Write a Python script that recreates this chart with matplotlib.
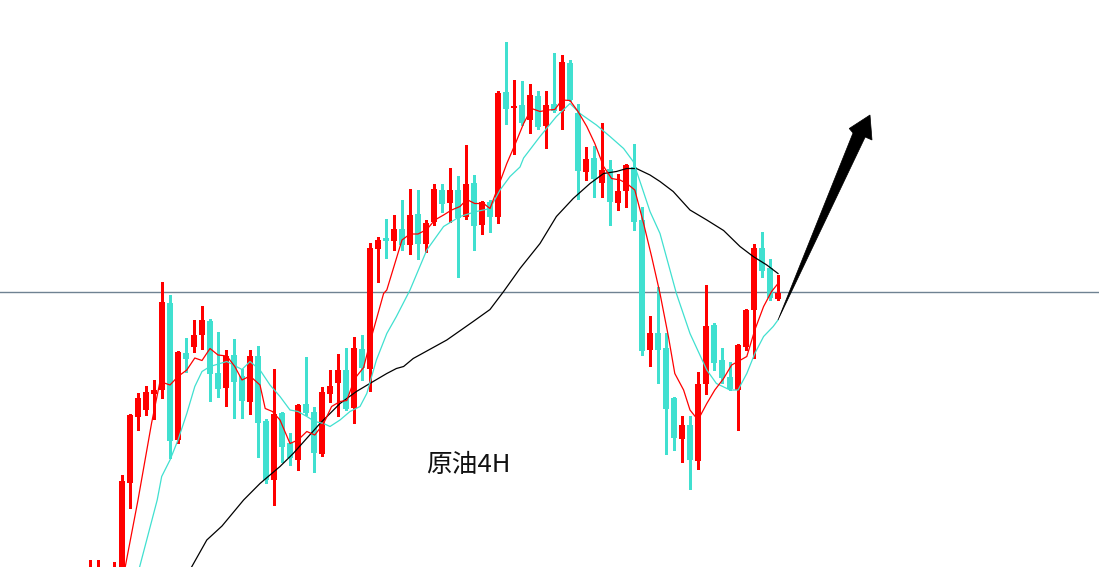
import matplotlib
matplotlib.use("Agg")
import matplotlib.pyplot as plt
from matplotlib.patches import Polygon
import numpy as np

plt.rcParams['font.family'] = ['Noto Sans CJK SC', 'DejaVu Sans']

# ---- candle data (4H crude oil) ----
opens = [74.04, 74.08, 74.04, 74.14, 74.14, 76.19, 77.51, 77.64, 77.96, 78.04,
         79.78, 77.04, 78.78, 78.91, 79.14, 79.42, 78.38, 78.09, 78.74, 78.32,
         77.81, 78.72, 77.42, 76.24, 77.59, 76.98, 76.64, 77.76, 77.60, 76.77,
         77.96, 78.19, 78.43, 77.69, 78.86, 78.46, 80.87, 81.08, 81.03, 81.26,
         80.95, 81.56, 80.97, 81.41, 82.04, 81.79, 82.04, 81.51, 82.19, 81.34,
         81.81, 81.51, 84.01, 83.68, 83.74, 83.44, 83.92, 83.33, 83.76, 83.63,
         84.58, 83.59, 82.41, 82.69, 82.19, 82.46, 81.79, 82.03, 82.50, 81.44,
         78.84, 79.19, 78.89, 77.89, 77.07, 77.35, 76.63, 78.16, 79.34, 78.65,
         78.29, 78.05, 78.91, 79.64, 80.89, 80.49, 79.86]
highs = [74.64, 74.64, 74.44, 74.60, 76.34, 77.56, 77.99, 78.12, 78.24, 80.20,
         79.94, 78.83, 79.08, 79.44, 79.72, 79.46, 79.21, 78.84, 79.06, 78.46,
         78.84, 78.92, 77.46, 78.46, 77.60, 77.18, 77.76, 78.71, 77.71, 78.11,
         78.44, 78.76, 78.87, 79.09, 79.14, 80.99, 81.11, 81.47, 81.54, 81.84,
         82.06, 82.04, 81.44, 82.17, 82.17, 82.49, 82.32, 82.94, 82.34, 81.82,
         81.84, 84.02, 85.01, 84.24, 84.22, 84.16, 84.02, 84.02, 84.79, 84.74,
         84.64, 83.76, 82.91, 82.92, 83.39, 82.64, 82.36, 82.56, 82.96, 81.71,
         79.51, 80.11, 79.18, 77.91, 77.52, 77.51, 78.41, 80.14, 79.37, 78.87,
         78.61, 78.97, 79.67, 80.96, 81.21, 80.65, 80.34]
lows = [73.84, 73.94, 73.88, 74.00, 74.00, 75.68, 77.23, 77.54, 77.46, 77.88,
        76.68, 76.98, 78.41, 78.79, 78.86, 77.81, 77.91, 77.72, 77.48, 77.48,
        77.56, 76.71, 76.18, 75.74, 76.61, 76.54, 76.44, 77.54, 76.41, 76.72,
        77.79, 77.51, 77.64, 77.39, 78.24, 78.02, 80.21, 80.69, 80.84, 80.84,
        80.77, 80.67, 80.81, 81.34, 81.59, 81.40, 80.29, 81.46, 80.84, 81.17,
        81.21, 81.39, 83.37, 82.77, 83.34, 83.19, 83.26, 82.89, 83.61, 83.26,
        83.83, 81.86, 82.24, 81.91, 81.91, 81.34, 81.64, 81.71, 81.23, 78.74,
        78.51, 78.19, 76.77, 76.85, 76.59, 76.07, 76.45, 77.97, 78.43, 78.19,
        78.05, 77.24, 78.84, 78.69, 80.29, 79.85, 79.84]
closes = [74.34, 74.40, 74.34, 74.44, 76.22, 77.54, 77.89, 78.00, 78.04, 79.80,
          77.03, 78.81, 78.66, 79.14, 79.44, 78.36, 78.07, 78.73, 78.21, 77.83,
          78.72, 77.39, 76.24, 77.56, 76.91, 76.68, 77.74, 77.59, 76.79, 78.00,
          78.12, 78.44, 77.66, 78.88, 78.49, 80.89, 81.04, 81.03, 81.26, 80.95,
          81.54, 80.97, 81.39, 82.06, 81.76, 82.04, 81.49, 82.16, 81.32, 81.79,
          81.51, 83.99, 83.66, 83.72, 83.39, 83.94, 83.31, 83.74, 83.62, 84.60,
          83.84, 82.43, 82.66, 82.26, 82.44, 81.81, 82.02, 82.54, 81.41, 78.83,
          79.19, 78.84, 77.67, 77.09, 77.35, 76.65, 78.16, 79.32, 78.59, 78.29,
          78.07, 78.94, 79.64, 80.89, 80.43, 79.89, 79.99]

# ---- moving-average lines (candle index, price) ----
ma_fast_x = [4.4, 6.0, 7.7, 8.75, 10, 11, 12.1, 13.1, 14, 15, 16, 17.1, 18.1, 19, 20,
             21.25, 21.9, 22.8, 23.75, 25, 26, 27.1, 28.1, 29.2, 30.2, 31.25, 32.1,
             33.1, 34.2, 35.2, 36.7, 37.1, 39, 40, 41, 42.1, 43.1, 44.2, 45.2, 46.25,
             47.1, 48.1, 49.2, 50, 50.8, 52.1, 53.1, 54.2, 55.2, 56.25, 57.3, 58.1,
             59, 60, 61, 62.1, 63.1, 64.2, 65.2, 66.25, 67.1, 68.1, 69.2, 70.2,
             71.25, 72.3, 73.1, 74.2, 75, 76, 77.1, 78.1, 79.2, 80.2, 81, 82.1,
             83.1, 84.2, 85.2, 86]
ma_fast_y = [74.50, 75.84, 77.38, 78.21, 78.14, 78.31, 78.44, 78.68, 78.63, 78.87,
             78.74, 78.72, 78.51, 78.24, 78.32, 78.14, 77.67, 77.61, 77.44, 76.97,
             77.04, 77.21, 77.14, 77.37, 77.71, 77.81, 77.83, 78.27, 78.49, 79.11,
             79.97, 80.04, 81.04, 81.16, 81.16, 81.25, 81.44, 81.54, 81.64, 81.71,
             81.85, 81.77, 81.77, 81.67, 82.01, 82.57, 82.94, 83.37, 83.67, 83.61,
             83.64, 83.65, 83.84, 83.83, 83.61, 83.31, 82.97, 82.51, 82.27, 82.24,
             82.17, 82.04, 81.37, 80.71, 79.97, 79.11, 78.37, 78.04, 77.64, 77.44,
             77.77, 78.04, 78.27, 78.54, 78.61, 78.71, 79.24, 79.71, 80.01, 80.17]

ma_mid_x = [6.2, 8.4, 8.96, 10, 11, 12.1, 13.1, 14, 15, 17.1, 19, 20, 21.25, 22.5,
            23.75, 25, 26, 27.1, 28.1, 29.2, 30, 31.25, 32.5, 33.75, 34.6, 35.8,
            37.1, 38.3, 40, 42.1, 44.2, 46.25, 48.3, 50, 51.25, 52.5, 53.75, 54.2,
            56.25, 58.3, 60, 61.25, 63.3, 65, 66.7, 67.9, 68.96, 70, 71.25, 73.3,
            75, 77.1, 78.3, 80, 81, 82.1, 83.1, 84.2, 85.4, 86]
ma_mid_y = [74.50, 75.84, 76.31, 76.64, 77.04, 77.57, 78.11, 78.41, 78.51, 78.61,
            78.45, 78.61, 78.44, 78.14, 77.91, 77.64, 77.61, 77.51, 77.41, 77.37,
            77.31, 77.44, 77.61, 77.71, 77.97, 78.64, 79.17, 79.51, 80.04, 80.84,
            81.31, 81.51, 81.61, 81.67, 82.04, 82.31, 82.50, 82.68, 83.11, 83.51,
            83.77, 83.57, 83.34, 83.11, 82.87, 82.61, 82.11, 81.61, 81.17, 79.97,
            79.17, 78.44, 78.17, 78.04, 78.04, 78.37, 78.77, 79.11, 79.31, 79.44]

ma_slow_x = [12.7, 14.6, 16.5, 19.2, 21.25, 23.75, 25.4, 28.75, 31.25, 33.3, 35.4,
             37.1, 38.3, 39.2, 40.4, 44.6, 47.9, 50, 51.7, 53.75, 54.6, 56.25, 58.3,
             60.4, 62.5, 64.2, 65.8, 67.1, 68.3, 70, 71.25, 72.9, 75, 77.1, 79.2,
             81.25, 82.9, 84.6, 86]
ma_slow_y = [74.50, 75.04, 75.32, 75.84, 76.17, 76.51, 76.77, 77.37, 77.77, 78.01,
             78.21, 78.37, 78.47, 78.51, 78.67, 79.04, 79.41, 79.65, 80.01, 80.47,
             80.64, 80.97, 81.51, 81.87, 82.17, 82.37, 82.41, 82.47, 82.47, 82.34,
             82.21, 82.01, 81.64, 81.44, 81.23, 80.91, 80.71, 80.54, 80.37]

level_price = 80.00
label_text = "原油4H"

# ---- drawing ----
RED = "#FF0000"
CYAN = "#40E0D0"

fig = plt.figure(figsize=(10.99, 5.67), dpi=100)
ax = fig.add_axes([0, 0, 1, 1])
ax.set_xlim(-11.25, 126.125)
ax.set_ylim(74.50, 85.84)
ax.axis("off")

idx = np.arange(len(opens))
o = np.array(opens); h = np.array(highs); l = np.array(lows); c = np.array(closes)
up = c >= o
colors = np.where(up, RED, CYAN)

ax.axhline(level_price, color="#6F8292", lw=1.0, zorder=1)

ax.vlines(idx, l, h, colors=colors, lw=1.0, zorder=2, antialiased=False)
bottoms = np.minimum(o, c)
heights = np.maximum(np.abs(c - o), 0.04)
bars = ax.bar(idx, heights, bottom=bottoms, width=0.68, color=colors,
              edgecolor=colors, linewidth=0, zorder=3)
for b in bars:
    b.set_antialiased(False)

ax.plot(ma_slow_x, ma_slow_y, color="black", lw=0.9, zorder=4)
ax.plot(ma_mid_x, ma_mid_y, color=CYAN, lw=0.9, zorder=4)
ax.plot(ma_fast_x, ma_fast_y, color=RED, lw=0.9, zorder=5)

# upward arrow annotation
arrow_pts = [(86.0, 79.44), (95.375, 83.18), (94.9, 83.27), (97.5, 83.54),
             (97.75, 83.04), (96.9, 83.10)]
ax.add_patch(Polygon(arrow_pts, closed=True, facecolor="black", edgecolor="black",
                     lw=0.5, zorder=6))

ax.text(47.25, 76.55, label_text, fontsize=18.5, color="#111111",
        ha="center", va="center", zorder=7)

fig.savefig("out.png", dpi=100, facecolor="white")
